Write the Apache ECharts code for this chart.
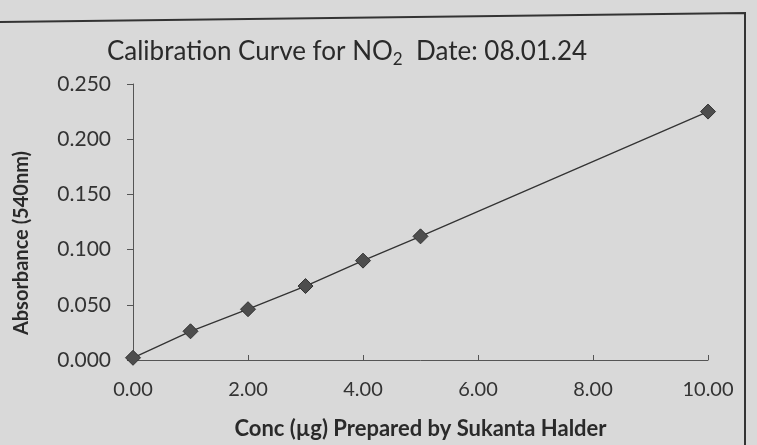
<!DOCTYPE html>
<html><head><meta charset="utf-8">
<script src="https://cdn.jsdelivr.net/npm/echarts@6/dist/echarts.min.js"></script>
<style>html,body{margin:0;padding:0;background:#dadada}#c{width:757px;height:445px}</style>
</head><body><div id="c"></div>
<script>
var conc = [0, 1, 2, 3, 4, 5, 10];
var absorbance = [0.002, 0.026, 0.046, 0.067, 0.090, 0.112, 0.225];
var yTicks = [0, 0.05, 0.10, 0.15, 0.20, 0.25];
var xTicks = [0, 2, 4, 6, 8, 10];

var chart = echarts.init(document.getElementById('c'));
var font = 'Lato, "Open Sans", sans-serif';
chart.setOption({
  backgroundColor: '#d9d9d9',
  animation: false,
  title: {
    text: 'Calibration Curve for NO{sub|2}  Date: 08.01.24',
    left: 342, top: 30, textAlign: 'center',
    textStyle: {
      fontFamily: font, fontSize: 26, fontWeight: 'normal', color: '#2a2a2a',
      rich: { sub: { fontFamily: font, fontSize: 17, color: '#2a2a2a', padding: [16, 0, 0, 0] } }
    }
  },
  graphic: [{
    type: 'polyline',
    shape: { points: [[0, 22], [745, 13], [745, 445]] },
    style: { stroke: '#333', lineWidth: 2, fill: null }
  }],
  grid: { left: 133, right: 49, top: 84, bottom: 85, outerBoundsMode: 'none', containLabel: false },
  xAxis: {
    type: 'value', min: 0, max: 10, interval: 2,
    name: 'Conc (µg) Prepared by Sukanta Halder',
    nameLocation: 'middle', nameGap: 58,
    nameTextStyle: { fontFamily: font, fontSize: 22, fontWeight: 'bold', color: '#2a2a2a' },
    axisLine: { lineStyle: { color: '#555', width: 1 } },
    axisTick: { show: true, inside: true, length: 5, lineStyle: { color: '#555' } },
    splitLine: { show: false },
    axisLabel: {
      margin: 20, fontFamily: font, fontSize: 20, color: '#333',
      formatter: function (v) { return v.toFixed(2); }
    }
  },
  yAxis: {
    type: 'value', min: 0, max: 0.25, interval: 0.05,
    name: 'Absorbance (540nm)',
    nameLocation: 'middle', nameGap: 101, nameRotate: 90,
    nameTextStyle: { fontFamily: font, fontSize: 20, fontWeight: 'bold', color: '#2a2a2a', padding: [0, 42, 0, 0] },
    axisLine: { show: true, lineStyle: { color: '#555', width: 1 } },
    axisTick: { show: true, length: 6, lineStyle: { color: '#555' } },
    splitLine: { show: false },
    axisLabel: {
      margin: 22, fontFamily: font, fontSize: 21, color: '#333',
      formatter: function (v) { return v.toFixed(3); }
    }
  },
  series: [{
    type: 'line',
    data: conc.map(function (c, i) { return [c, absorbance[i]]; }),
    symbol: 'diamond', symbolSize: 15,
    itemStyle: { color: '#4d4d4d', borderColor: '#333', borderWidth: 1 },
    lineStyle: { color: '#333', width: 1.3 }
  }]
});
</script></body></html>
